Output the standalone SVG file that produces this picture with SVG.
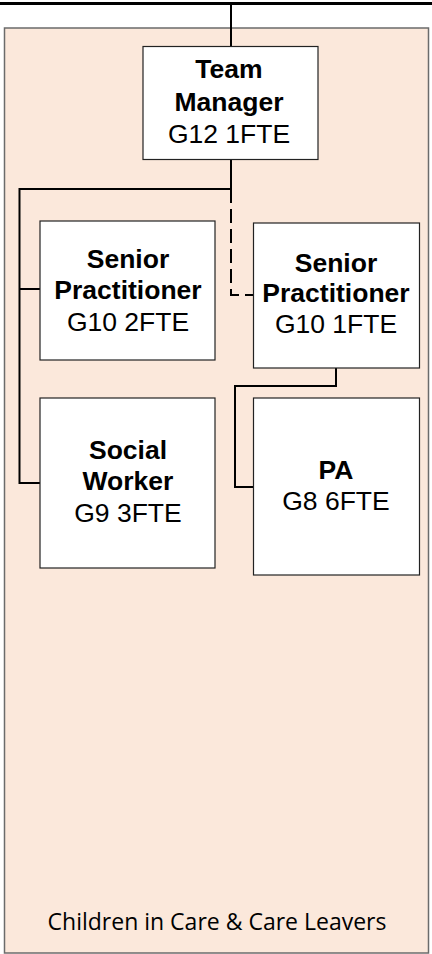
<svg xmlns="http://www.w3.org/2000/svg" width="432" height="954" viewBox="0 0 432 954">
<style>
.box{fill:#fff;stroke:#222;stroke-width:1.2}
.b{font-family:"Liberation Sans",Arial,sans-serif;font-weight:bold;font-size:26.5px;fill:#000;text-anchor:middle}
.r{font-family:"Liberation Sans",Arial,sans-serif;font-size:26.5px;fill:#000;text-anchor:middle}
.c{fill:none;stroke:#000;stroke-width:2}
</style>
<rect width="432" height="954" fill="#fff"/>
<g id="container">
<rect x="4.5" y="28" width="424" height="925" fill="#FBE8DB" stroke="#6b6b6b" stroke-width="1.5"/>
<text x="217" y="930" font-family="'Open Sans','Noto Sans',sans-serif" font-size="23" fill="#000" text-anchor="middle">Children in Care &amp; Care Leavers</text>
</g>
<g id="connectors">
<line x1="0" y1="3.5" x2="432" y2="3.5" stroke="#000" stroke-width="3"/>
<line class="c" x1="231" y1="3" x2="231" y2="46"/>
<path class="c" d="M231,160 V189 H19.5 V483 H40"/>
<path class="c" d="M19.5,289 H40"/>
<path class="c" d="M231,189 V295 H253" stroke-dasharray="14,6"/>
<path class="c" d="M336,368 V386 H235 V487 H253"/>
</g>
<g id="team-manager">
<rect class="box" x="143" y="46.5" width="175" height="113"/>
<text class="b" x="229" y="78">Team</text>
<text class="b" x="229" y="111">Manager</text>
<text class="r" x="229" y="143">G12 1FTE</text>
</g>
<g id="senior-practitioner-1">
<rect class="box" x="40" y="221" width="175" height="139"/>
<text class="b" x="128" y="268">Senior</text>
<text class="b" x="128" y="299">Practitioner</text>
<text class="r" x="128" y="331">G10 2FTE</text>
</g>
<g id="senior-practitioner-2">
<rect class="box" x="253.5" y="223" width="166" height="145"/>
<text class="b" x="336" y="272">Senior</text>
<text class="b" x="336" y="302">Practitioner</text>
<text class="r" x="336" y="333">G10 1FTE</text>
</g>
<g id="social-worker">
<rect class="box" x="40" y="398" width="175" height="170"/>
<text class="b" x="128" y="459">Social</text>
<text class="b" x="128" y="490">Worker</text>
<text class="r" x="128" y="522">G9 3FTE</text>
</g>
<g id="pa">
<rect class="box" x="253.5" y="398" width="166" height="177"/>
<text class="b" x="336" y="479">PA</text>
<text class="r" x="336" y="510">G8 6FTE</text>
</g>
</svg>
